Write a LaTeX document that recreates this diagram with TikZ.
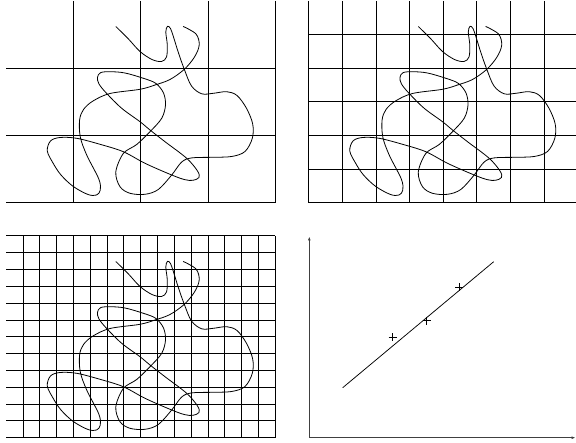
\documentclass[tikz,border=0pt]{standalone}
\usetikzlibrary{arrows.meta}
\begin{document}
\begin{tikzpicture}[x=1pt,y=-1pt,
  gridline/.style={line width=0.9pt, black},
  curveline/.style={line width=0.8pt, line join=round, line cap=round},
  axisline/.style={line width=0.9pt, black!75, -{Latex[length=4pt,width=3pt]}},
  fitline/.style={line width=0.75pt},
  plusmark/.style={line width=0.75pt},
  squiggle/.pic={
    \draw[curveline] plot[smooth, tension=0.55] coordinates {
      (116,26.7) (128,38.5) (140,51.5) (152,59.5) (161.5,61.5) (166.5,57) (167.3,45) (165.8,32)
      (167.5,26.3) (170.5,28.5) (173.5,37) (178.5,53) (184.3,69.3) (191.5,86) (201.7,93.8)
      (213.3,93.3) (226.7,91.7) (237,95.5) (246.5,108.3) (252.7,124) (252.3,138.3) (245,151.5)
      (231.7,156.5) (211.7,157.3) (191.7,157.9) (181.7,162) (171.7,175) (158.3,189.5) (145,194.3)
      (130,193.3) (120,186.7) (115.8,172) (123.3,153.5) (136.7,144.5) (150,131.7) (161.7,118.3)
      (165.5,105) (163.5,93) (156,83.5) (144,78.5) (125,73) (110,71.7) (100.5,72.7) (97.5,77.5)
      (99,84) (106.7,93.5) (121.7,108.3) (140,121.7) (150,130) (165,141.7) (186.7,158.3)
      (197.5,171) (199,177.5) (193,180.3) (185,179.7) (171.7,175) (145,163.3) (123.3,151.7)
      (100,144.3) (76.7,138.3) (60,137.5) (50.5,141) (47.3,151) (53,163) (61,175) (73.3,186.5)
      (88,194.5) (96.5,195) (100.3,190) (98.8,179) (86.7,155) (80.3,137) (79.6,120) (83.5,109.5)
      (93,101) (110,93.5) (140,89.3) (155,85) (170,79.5) (184.3,69.3) (194.5,57) (199.2,45)
      (196,34) (183.3,26.5)};
  }]
\useasboundingbox (0,0) rectangle (576,443);
\clip (0,0) rectangle (576,443);

% top-left grid (coarse)
\foreach \k in {1,...,4}
  \draw[gridline] ({6.2+\k*67.25},0.95) -- ({6.2+\k*67.25},202.7);
\foreach \k in {0,1,2}
  \draw[gridline] (6.2,{202.7-\k*67.25}) -- (275.2,{202.7-\k*67.25});
\pic at (0,0) {squiggle};

% top-right grid (medium)
\foreach \k in {0,...,8}
  \draw[gridline] ({308.7+\k*33.625},0.95) -- ({308.7+\k*33.625},202.7);
\foreach \k in {0,...,5}
  \draw[gridline] (308.7,{202.7-\k*33.625}) -- (577.7,{202.7-\k*33.625});
\pic at (302.5,0) {squiggle};

% bottom-left grid (fine)
\foreach \k in {1,...,16}
  \draw[gridline] ({6.2+\k*16.8125},235.95) -- ({6.2+\k*16.8125},437.7);
\foreach \k in {0,...,12}
  \draw[gridline] (6.2,{437.7-\k*16.8125}) -- (275.2,{437.7-\k*16.8125});
\pic at (0,235) {squiggle};

% bottom-right plot
\coordinate (O) at (309.3,437.7);
\coordinate (ytop) at (309.3,236.5);
\coordinate (xend) at (575.5,437.7);
\draw[axisline] (O) -- (ytop);
\draw[axisline] (O) -- (xend);
\coordinate (fa) at (342.7,387.7);
\coordinate (fb) at (493.7,261.7);
\draw[fitline] (fa) -- (fb);
\foreach \px/\py in {392.7/337.3, 426.7/320.7, 459.3/287.3}
  \draw[plusmark] (\px-4,\py) -- (\px+4,\py) (\px,\py-4) -- (\px,\py+4);
\end{tikzpicture}
\end{document}
